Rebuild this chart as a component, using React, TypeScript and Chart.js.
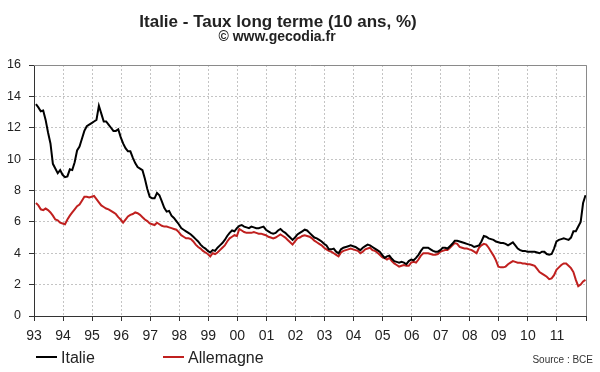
import React, { useEffect, useRef } from 'react';
import { Chart, registerables } from 'chart.js';

Chart.register(...registerables);

const yearLabels = ['93', '94', '95', '96', '97', '98', '99', '00', '01', '02', '03', '04', '05', '06', '07', '08', '09', '10', '11'];

// Monthly 10-year yields, Jan 1993 .. Dec 2011
const italie = [
  13.5, 13.3, 13.05, 13.1, 12.5, 11.7, 11.0, 9.7, 9.4, 9.1, 9.3, 9.0,
  8.85, 8.9, 9.35, 9.3, 9.8, 10.55, 10.8, 11.3, 11.8, 12.1, 12.2, 12.3,
  12.4, 12.5, 13.4, 12.9, 12.4, 12.4, 12.2, 12.0, 11.8, 11.8, 11.9, 11.4,
  11.0, 10.7, 10.5, 10.5, 10.1, 9.75, 9.5, 9.4, 9.3, 8.75, 8.1, 7.6,
  7.5, 7.5, 7.85, 7.7, 7.3, 6.9, 6.65, 6.7, 6.4, 6.25, 6.05, 5.85,
  5.6, 5.5, 5.4, 5.3, 5.2, 5.05, 4.9, 4.75, 4.55, 4.4, 4.3, 4.15,
  4.05, 4.2, 4.15, 4.35, 4.5, 4.65, 4.85, 5.1, 5.3, 5.45, 5.4, 5.6,
  5.75, 5.8, 5.7, 5.65, 5.6, 5.7, 5.65, 5.6, 5.6, 5.65, 5.7, 5.5,
  5.4, 5.3, 5.25, 5.3, 5.45, 5.55, 5.4, 5.3, 5.15, 5.0, 4.85, 5.0,
  5.2, 5.3, 5.4, 5.5, 5.45, 5.3, 5.15, 5.0, 4.95, 4.85, 4.75, 4.6,
  4.5, 4.25, 4.25, 4.3, 4.1, 4.0, 4.25, 4.35, 4.4, 4.45, 4.5, 4.45,
  4.4, 4.3, 4.2, 4.35, 4.45, 4.55, 4.5, 4.4, 4.3, 4.2, 4.1, 3.9,
  3.7, 3.8, 3.85, 3.65, 3.5, 3.45, 3.4, 3.45, 3.4, 3.3, 3.5, 3.6,
  3.55, 3.7, 3.9, 4.15, 4.35, 4.35, 4.35, 4.25, 4.15, 4.1, 4.1, 4.2,
  4.35, 4.35, 4.3, 4.45, 4.6, 4.8, 4.8, 4.75, 4.7, 4.65, 4.6, 4.55,
  4.5, 4.4, 4.45, 4.5, 4.75, 5.1, 5.05, 4.95, 4.9, 4.85, 4.75, 4.7,
  4.65, 4.65, 4.6, 4.5, 4.6, 4.7, 4.5, 4.3, 4.2, 4.15, 4.15, 4.1,
  4.1, 4.1, 4.1, 4.05, 4.0, 4.1, 4.1, 3.95, 3.9, 3.95, 4.3, 4.75,
  4.85, 4.9, 4.95, 4.9, 4.85, 5.0, 5.4, 5.4, 5.7, 6.0, 7.2, 7.7,
];

const allemagne = [
  7.2, 7.05, 6.8, 6.75, 6.85, 6.75, 6.6, 6.4, 6.15, 6.1, 5.95, 5.9,
  5.85, 6.15, 6.4, 6.6, 6.8, 7.0, 7.1, 7.35, 7.6, 7.6, 7.55, 7.6,
  7.65, 7.45, 7.25, 7.05, 6.95, 6.85, 6.8, 6.7, 6.6, 6.5, 6.3, 6.15,
  5.95, 6.15, 6.35, 6.45, 6.5, 6.6, 6.55, 6.45, 6.3, 6.15, 6.05, 5.9,
  5.85, 5.8, 5.95, 5.85, 5.75, 5.7, 5.7, 5.65, 5.6, 5.55, 5.5, 5.35,
  5.15, 5.05, 4.95, 4.95, 4.9, 4.75, 4.55, 4.4, 4.3, 4.15, 4.05, 3.95,
  3.8, 4.0, 3.95, 4.05, 4.2, 4.35, 4.5, 4.75, 4.95, 5.05, 5.15, 5.1,
  5.55, 5.45, 5.35, 5.3, 5.3, 5.3, 5.35, 5.3, 5.25, 5.25, 5.2, 5.15,
  5.05, 5.0, 4.95, 5.0, 5.1, 5.2, 5.1, 5.0, 4.85, 4.7, 4.55, 4.75,
  4.95, 5.0, 5.1, 5.15, 5.1, 5.05, 4.95, 4.8, 4.7, 4.6, 4.5, 4.35,
  4.25, 4.15, 4.1, 4.0, 3.9, 3.8, 4.05, 4.15, 4.2, 4.25, 4.3, 4.25,
  4.2, 4.15, 4.0, 4.1, 4.25, 4.3, 4.35, 4.2, 4.15, 4.05, 3.9, 3.75,
  3.7, 3.6, 3.7, 3.5, 3.35, 3.25, 3.15, 3.2, 3.25, 3.2, 3.2, 3.4,
  3.45, 3.4, 3.6, 3.85, 4.0, 4.0, 4.0, 3.95, 3.9, 3.9, 3.95, 4.1,
  4.15, 4.2, 4.2, 4.35, 4.5, 4.65, 4.6, 4.4, 4.35, 4.3, 4.3, 4.25,
  4.2, 4.1, 4.0, 4.35, 4.5, 4.6, 4.55, 4.35, 4.1, 3.85, 3.55, 3.15,
  3.1, 3.1, 3.15, 3.3, 3.4, 3.5, 3.45, 3.4, 3.4, 3.35, 3.35, 3.3,
  3.3, 3.25, 3.2, 3.0, 2.8, 2.7, 2.6, 2.5, 2.35, 2.4, 2.6, 2.95,
  3.1, 3.25, 3.35, 3.35, 3.2, 3.05, 2.8, 2.3, 1.9, 2.0, 2.2, 2.3,
];

const titleText = 'Italie - Taux long terme (10 ans, %)';
const subtitleText = '\u00A9 www.gecodia.fr';
const sourceText = 'Source : BCE';
const seriesNames = ['Italie', 'Allemagne'];
const seriesColors = ['#000000', '#c0201f'];

const FONT = "'Liberation Sans', Arial, sans-serif";

const decorPlugin = {
  id: 'decor',
  beforeDatasetsDraw(chart: any) {
    const { ctx, chartArea } = chart;
    ctx.save();
    ctx.strokeStyle = '#8a8a8a';
    ctx.lineWidth = 1;
    ctx.beginPath();
    ctx.moveTo(chartArea.left, chartArea.top + 0.5);
    ctx.lineTo(chartArea.right + 0.5, chartArea.top + 0.5);
    ctx.lineTo(chartArea.right + 0.5, chartArea.bottom);
    ctx.stroke();
    ctx.restore();
  },
  afterDraw(chart: any) {
    const { ctx } = chart;
    ctx.save();
    ctx.fillStyle = '#222';
    ctx.textAlign = 'center';
    ctx.textBaseline = 'alphabetic';
    ctx.font = `bold 17px ${FONT}`;
    ctx.fillText(titleText, 278, 27);
    ctx.font = `bold 14px ${FONT}`;
    ctx.fillText(subtitleText, 277, 41);

    // legend
    const items = [
      { x: 36, text: seriesNames[0], color: seriesColors[0] },
      { x: 163, text: seriesNames[1], color: seriesColors[1] },
    ];
    ctx.font = `16px ${FONT}`;
    ctx.textAlign = 'left';
    for (const it of items) {
      ctx.strokeStyle = it.color;
      ctx.lineWidth = 2;
      ctx.beginPath();
      ctx.moveTo(it.x, 357);
      ctx.lineTo(it.x + 21, 357);
      ctx.stroke();
      ctx.fillStyle = '#222';
      ctx.fillText(it.text, it.x + 25, 363);
    }
    ctx.font = `10px ${FONT}`;
    ctx.textAlign = 'right';
    ctx.fillStyle = '#333';
    ctx.fillText(sourceText, 593, 363);
    ctx.restore();
  },
};

export default function App() {
  const ref = useRef<HTMLCanvasElement>(null);
  useEffect(() => {
    document.body.style.margin = '0';
    const canvas = ref.current;
    if (!canvas) return;
    const chart = new Chart(canvas, {
      type: 'line',
      data: {
        datasets: [
          {
            label: seriesNames[0],
            data: italie.map((v, i) => ({ x: i + 0.8, y: v })),
            borderColor: seriesColors[0],
            borderWidth: 2,
            pointRadius: 0,
            tension: 0,
          },
          {
            label: seriesNames[1],
            data: allemagne.map((v, i) => ({ x: i + 0.8, y: v })),
            borderColor: seriesColors[1],
            borderWidth: 2,
            pointRadius: 0,
            tension: 0,
          },
        ],
      },
      options: {
        responsive: false,
        animation: false,
        layout: { padding: { top: 65, right: 14, bottom: 26, left: 0 } },
        plugins: {
          legend: { display: false },
          tooltip: { enabled: false },
          title: { display: false },
        },
        scales: {
          x: {
            type: 'linear',
            min: 0,
            max: yearLabels.length * 12,
            afterBuildTicks: (s: any) => {
              s.ticks = yearLabels.map((_, k) => ({ value: k * 12 })).concat([{ value: yearLabels.length * 12 }]);
            },
            ticks: {
              autoSkip: false,
              maxRotation: 0,
              padding: 7,
              color: '#222',
              font: { family: FONT, size: 14 },
              callback: (v: any) => yearLabels[Math.round(Number(v) / 12)] ?? '',
            },
            grid: { color: '#c4c4c4', tickColor: '#333', tickLength: 5, lineWidth: 1 },
            border: { color: '#333', width: 1, dash: [2, 2] },
            afterFit: (s: any) => { s.height = 30; },
          },
          y: {
            min: 0,
            max: 16,
            ticks: {
              stepSize: 2,
              padding: 8,
              color: '#222',
              font: { family: FONT, size: 12.5 },
            },
            grid: { color: '#c4c4c4', tickColor: '#333', tickLength: 5, lineWidth: 1 },
            border: { color: '#333', width: 1, dash: [2, 2] },
            afterFit: (s: any) => { s.width = 34; },
          },
        },
      } as any,
      plugins: [decorPlugin],
    });
    return () => chart.destroy();
  }, []);
  return <canvas ref={ref} width={600} height={372} style={{ display: 'block' }} />;
}
